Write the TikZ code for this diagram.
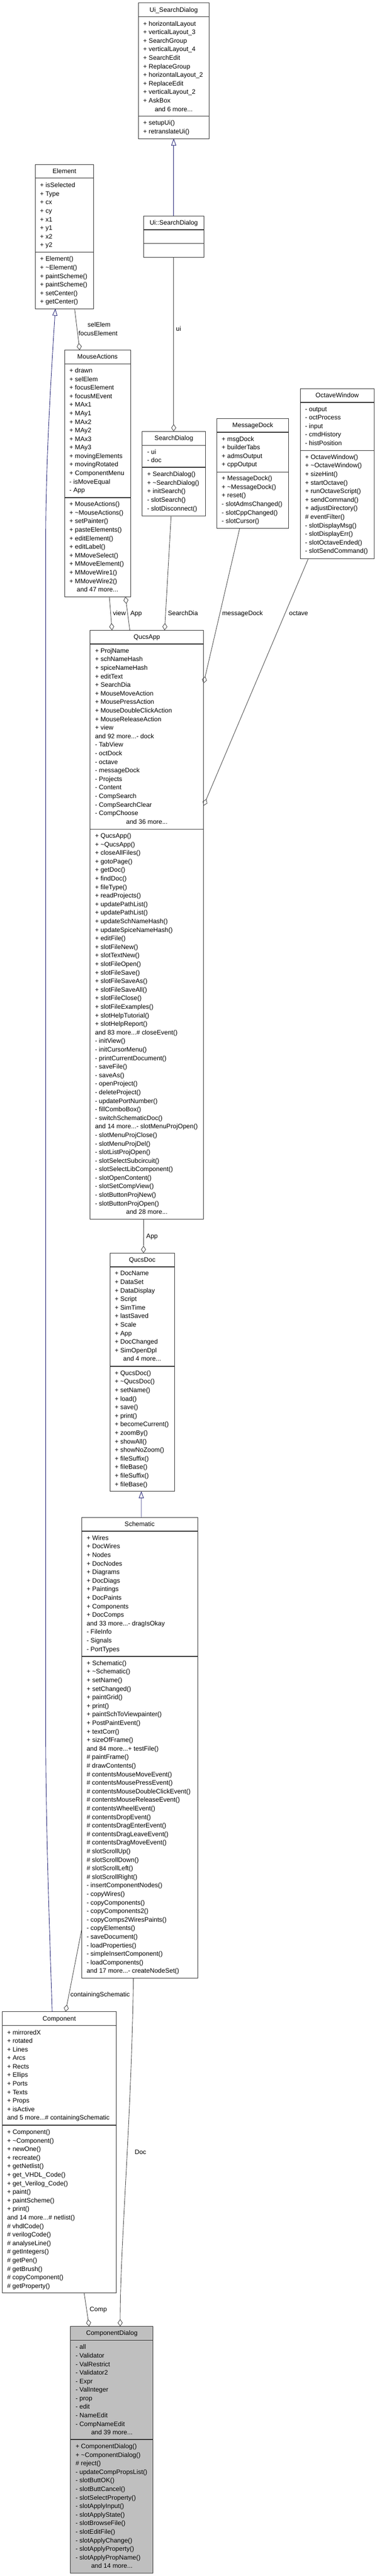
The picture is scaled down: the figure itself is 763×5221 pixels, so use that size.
\documentclass[tikz,border=0pt]{standalone}
\usepackage{fontspec}
\setmainfont{Liberation Sans}
\usetikzlibrary{arrows.meta}
\definecolor{edgegrey}{HTML}{404040}
\definecolor{inhblue}{HTML}{191970}
\definecolor{boxline}{HTML}{303030}
\definecolor{hifill}{HTML}{BFBFBF}
\newcommand\mdots{...}
\tikzset{
 umlbox/.style={draw=boxline, line width=1pt, fill=white, inner sep=0pt, outer sep=0pt, anchor=north west},
 hibox/.style={umlbox, fill=hifill},
 sepline/.style={draw=boxline, line width=1.5pt},
 txt/.style={font=\fontsize{13}{16}\selectfont, inner sep=0pt, outer sep=0pt, anchor=base west, text=black},
 ctxt/.style={txt, anchor=base},
 aggr/.style={draw=edgegrey, line width=0.9pt, -{Diamond[open,length=14.5pt,width=10pt,line width=0.9pt]}},
 inh/.style={draw=inhblue, line width=0.9pt, -{Triangle[open,length=14pt,width=10pt,line width=0.9pt]}},
}
% #1 style, #2 name, #3 L, #4 T, #5 R, #6 B, #7 title, #8 sep1, #9 sep2
\newcommand\UmlBox[9][umlbox]{%
  \node[#1, minimum width={#5-#3}, minimum height={#6-#4}] (#2) at (#3,#4) {};
  \draw[sepline] (#3,#8) -- (#5,#8);
  \draw[sepline] (#3,#9) -- (#5,#9);
  \node[ctxt] (#2-title) at ({(#3+#5)/2},{#4+13.5+4.7}) {#7};
}
% #1 name prefix, #2 left x of box, #3 first line y, #4 list
\newcommand\Lines[4]{%
  \foreach \itm [count=\i from 0] in {#4} {\node[txt] (#1-\i) at ({#2+10},{#3+\i*17.33+4.7}) {\itm};}%
}
% #1 name, #2 centre x, #3 y, #4 text
\newcommand\CLine[4]{\node[ctxt] (#1) at ({#2},{#3+4.7}) {#4};}
\begin{document}
\begin{tikzpicture}[x=1pt,y=-1pt]
\fill[white] (0,0) rectangle (763,5221);
\useasboundingbox (0,0) rectangle (763,5221);

% Ui_SearchDialog
\UmlBox{uisd}{280}{6}{423.3}{281}{Ui\_SearchDialog}{34}{235.7}
\Lines{uisda}{280}{47.7}{+ horizontalLayout, + verticalLayout\_3, + SearchGroup, + verticalLayout\_4, + SearchEdit, + ReplaceGroup, + horizontalLayout\_2, + ReplaceEdit, + verticalLayout\_2, + AskBox}
\CLine{uisdmore}{351.7}{221}{and 6 more...}
\Lines{uisdm}{280}{248.7}{+ setupUi(), + retranslateUi()}

% Element
\UmlBox{elem}{71}{333.3}{190}{625.7}{Element}{361}{511.4}
\Lines{elema}{71}{375}{+ isSelected, + Type, + cx, + cy, + x1, + y1, + x2, + y2}
\Lines{elemm}{71}{524.6}{+ Element(), + \textasciitilde{}Element(), + paintScheme(), + paintScheme(), + setCenter(), + getCenter()}

% Ui::SearchDialog
\UmlBox{uisdb}{291}{437.5}{412.7}{521.8}{Ui::SearchDialog}{465.7}{493.6}

% MouseActions
\UmlBox{ma}{130.7}{709.6}{264.2}{1209.5}{MouseActions}{737.5}{1008.6}
\Lines{maa}{130.7}{750.7}{+ drawn, + selElem, + focusElement, + focusMEvent, + MAx1, + MAy1, + MAx2, + MAy2, + MAx3, + MAy3, + movingElements, + movingRotated, + ComponentMenu, - isMoveEqual, - App}
\Lines{mam}{130.7}{1021.5}{+ MouseActions(), + \textasciitilde{}MouseActions(), + setPainter(), + pasteElements(), + editElement(), + editLabel(), + MMoveSelect(), + MMoveElement(), + MMoveWire1(), + MMoveWire2()}
\CLine{mamore}{197.45}{1194.8}{and 47 more...}

% SearchDialog
\UmlBox{sd}{288}{874.3}{416}{1045.4}{SearchDialog}{902.5}{947.1}
\Lines{sda}{288}{915.4}{- ui, - doc}
\Lines{sdm}{288}{960.8}{+ SearchDialog(), + \textasciitilde{}SearchDialog(), + initSearch(), - slotSearch(), - slotDisconnect()}

% MessageDock
\UmlBox{md}{439}{848.2}{584.7}{1071.3}{MessageDock}{876}{957}
\Lines{mda}{439}{889.3}{+ msgDock, + builderTabs, + admsOutput, + cppOutput}
\Lines{mdm}{439}{969.3}{+ MessageDock(), + \textasciitilde{}MessageDock(), + reset(), - slotAdmsChanged(), - slotCppChanged(), - slotCursor()}

% OctaveWindow
\UmlBox{ow}{607.7}{787.5}{757.7}{1132}{OctaveWindow}{815.4}{913.2}
\Lines{owa}{607.7}{828.6}{- output, - octProcess, - input, - cmdHistory, - histPosition}
\Lines{owm}{607.7}{926}{+ OctaveWindow(), + \textasciitilde{}OctaveWindow(), + sizeHint(), + startOctave(), + runOctaveScript(), + sendCommand(), + adjustDirectory(), \# eventFilter(), - slotDisplayMsg(), - slotDisplayErr(), - slotOctaveEnded(), - slotSendCommand()}

% QucsApp
\UmlBox{qa}{182.5}{1277.4}{412.2}{2471.4}{QucsApp}{1305.4}{1680.8}
\Lines{qaa}{182.5}{1318.7}{+ ProjName, + schNameHash, + spiceNameHash, + editText, + SearchDia, + MouseMoveAction, + MousePressAction, + MouseDoubleClickAction, + MouseReleaseAction, + view, and 92 more\mdots- dock, - TabView, - octDock, - octave, - messageDock, - Projects, - Content, - CompSearch, - CompSearchClear, - CompChoose}
\CLine{qaamore}{297.35}{1665.3}{and 36 more...}
\Lines{qam}{182.5}{1693.7}{+ QucsApp(), + \textasciitilde{}QucsApp(), + closeAllFiles(), + gotoPage(), + getDoc(), + findDoc(), + fileType(), + readProjects(), + updatePathList(), + updatePathList(), + updateSchNameHash(), + updateSpiceNameHash(), + editFile(), + slotFileNew(), + slotTextNew(), + slotFileOpen(), + slotFileSave(), + slotFileSaveAs(), + slotFileSaveAll(), + slotFileClose(), + slotFileExamples(), + slotHelpTutorial(), + slotHelpReport(), and 83 more\mdots\# closeEvent(), - initView(), - initCursorMenu(), - printCurrentDocument(), - saveFile(), - saveAs(), - openProject(), - deleteProject(), - updatePortNumber(), - fillComboBox(), - switchSchematicDoc(), and 14 more\mdots- slotMenuProjOpen(), - slotMenuProjClose(), - slotMenuProjDel(), - slotListProjOpen(), - slotSelectSubcircuit(), - slotSelectLibComponent(), - slotOpenContent(), - slotSetCompView(), - slotButtonProjNew(), - slotButtonProjOpen()}
\CLine{qammore}{297.35}{2456.2}{and 28 more...}

% QucsDoc
\UmlBox{qd}{222.4}{2539.6}{353.3}{3022.4}{QucsDoc}{2567.6}{2769}
\Lines{qda}{222.4}{2580.6}{+ DocName, + DataSet, + DataDisplay, + Script, + SimTime, + lastSaved, + Scale, + App, + DocChanged, + SimOpenDpl}
\CLine{qdamore}{287.85}{2753.9}{and 4 more...}
\Lines{qdm}{222.4}{2782.6}{+ QucsDoc(), + \textasciitilde{}QucsDoc(), + setName(), + load(), + save(), + print(), + becomeCurrent(), + zoomBy(), + showAll(), + showNoZoom(), + fileSuffix(), + fileBase(), + fileSuffix(), + fileBase()}

% Schematic
\UmlBox{sch}{165.5}{3075.3}{400}{4008.9}{Schematic}{3103.4}{3356.9}
\Lines{scha}{165.5}{3116.7}{+ Wires, + DocWires, + Nodes, + DocNodes, + Diagrams, + DocDiags, + Paintings, + DocPaints, + Components, + DocComps, and 33 more\mdots- dragIsOkay, - FileInfo, - Signals, - PortTypes}
\Lines{schm}{165.5}{3370.5}{+ Schematic(), + \textasciitilde{}Schematic(), + setName(), + setChanged(), + paintGrid(), + print(), + paintSchToViewpainter(), + PostPaintEvent(), + textCorr(), + sizeOfFrame(), and 84 more\mdots+ testFile(), \# paintFrame(), \# drawContents(), \# contentsMouseMoveEvent(), \# contentsMousePressEvent(), \# contentsMouseDoubleClickEvent(), \# contentsMouseReleaseEvent(), \# contentsWheelEvent(), \# contentsDropEvent(), \# contentsDragEnterEvent(), \# contentsDragLeaveEvent(), \# contentsDragMoveEvent(), \# slotScrollUp(), \# slotScrollDown(), \# slotScrollLeft(), \# slotScrollRight(), - insertComponentNodes(), - copyWires(), - copyComponents(), - copyComponents2(), - copyComps2WiresPaints(), - copyElements(), - saveDocument(), - loadProperties(), - simpleInsertComponent(), - loadComponents(), and 17 more\mdots- createNodeSet()}

% Component
\UmlBox{comp}{4.4}{4077.2}{235.5}{4647}{Component}{4105.2}{4307.2}
\Lines{compa}{4.4}{4118.8}{+ mirroredX, + rotated, + Lines, + Arcs, + Rects, + Ellips, + Ports, + Texts, + Props, + isActive, and 5 more\mdots\# containingSchematic}
\Lines{compm}{4.4}{4320.9}{+ Component(), + \textasciitilde{}Component(), + newOne(), + recreate(), + getNetlist(), + get\_VHDL\_Code(), + get\_Verilog\_Code(), + paint(), + paintScheme(), + print(), and 14 more\mdots\# netlist(), \# vhdlCode(), \# verilogCode(), \# analyseLine(), \# getIntegers(), \# getPen(), \# getBrush(), \# copyComponent(), \# getProperty()}

% ComponentDialog
\UmlBox[hibox]{cd}{143}{4715}{310}{5214.8}{ComponentDialog}{4743}{4944.3}
\Lines{cda}{143}{4756.6}{- all, - Validator, - ValRestrict, - Validator2, - Expr, - ValInteger, - prop, - edit, - NameEdit, - CompNameEdit}
\CLine{cdamore}{226.5}{4929.9}{and 39 more...}
\Lines{cdm}{143}{4957.9}{+ ComponentDialog(), + \textasciitilde{}ComponentDialog(), \# reject(), - updateCompPropsList(), - slotButtOK(), - slotButtCancel(), - slotSelectProperty(), - slotApplyInput(), - slotApplyState(), - slotBrowseFile(), - slotEditFile(), - slotApplyChange(), - slotApplyProperty(), - slotApplyPropName()}
\CLine{cdmmore}{226.5}{5200.5}{and 14 more...}

% ---- inheritance edges
\draw[inh] ([xshift=60.7pt]uisdb.north west) -- ([xshift=71.7pt]uisd.south west);
\draw[inh] ([xshift=120.6pt]sch.north west) -- ([xshift=63.7pt]qd.south west);
\draw[inh] ([xshift=101.2pt]comp.north west) .. controls (100,3900) and (92.5,3700) .. (92.5,3500) -- (92.5,1100) .. controls (92.5,950) and (101,800) .. ([xshift=41pt]elem.south west);

% ---- aggregation edges
\draw[aggr] ([xshift=80pt]elem.south west) -- ([xshift=30.6pt]ma.north west);
\node[ctxt] (lselelem) at (200.5,662.6) {selElem};
\node[ctxt] (lfocus) at (198.5,680.1) {focusElement};

\draw[aggr] ([xshift=60.7pt]uisdb.south west) -- ([xshift=63.7pt]sd.north west);
\node[txt] (lui) at (356.5,670.7) {ui};

\draw[aggr] ([xshift=90.7pt]ma.south west) -- ([xshift=44.3pt]qa.north west);
\node[ctxt] (lview) at (241.8,1247.3) {view};

\draw[aggr] ([xshift=80.3pt]qa.north west) -- ([xshift=123.3pt]ma.south west);
\node[ctxt] (lapp1) at (275.6,1247.3) {App};

\draw[aggr] ([xshift=58.5pt]sd.south west) -- ([xshift=150.8pt]qa.north west);
\node[ctxt] (lsearch) at (370.3,1247.3) {SearchDia};

\draw[aggr] ([xshift=46.2pt]md.south west) -- ([yshift=-107.6pt]qa.north east);
\node[ctxt] (lmsg) at (491,1247.3) {messageDock};

\draw[aggr] ([xshift=16.6pt]ow.south west) -- ([yshift=-355.6pt]qa.north east);
\node[ctxt] (loct) at (604.6,1247.3) {octave};

\draw[aggr] ([xshift=108.5pt]qa.south west) -- ([xshift=68.1pt]qd.north west);
\node[ctxt] (lapp2) at (307.8,2509.2) {App};

\draw[aggr] ([yshift=-834.7pt]sch.north west) -- ([xshift=128.4pt]comp.north west);
\node[ctxt] (lcont) at (202.7,4047.1) {containingSchematic};

\draw[aggr] ([xshift=104.6pt]sch.south west) .. controls (266,4300) and (243.3,4550) .. ([xshift=100.3pt]cd.north west);
\node[ctxt] (ldoc) at (284.4,4366.2) {Doc};

\draw[aggr] ([xshift=165.9pt]comp.south west) -- ([xshift=37.5pt]cd.north west);
\node[ctxt] (lcomp) at (199,4684.7) {Comp};
\end{tikzpicture}
\end{document}
